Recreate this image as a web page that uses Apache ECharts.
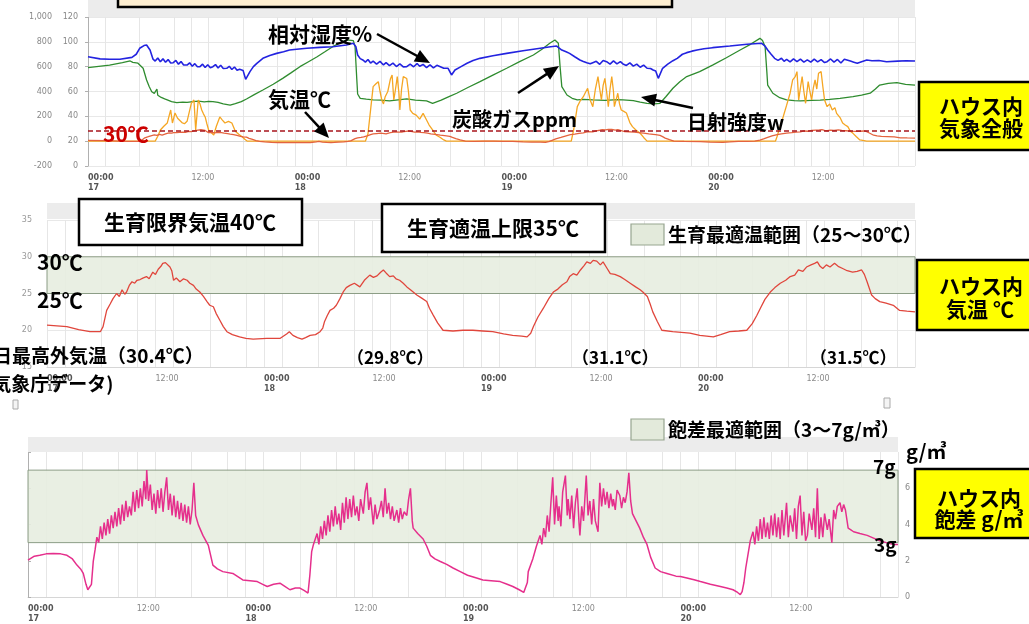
<!DOCTYPE html>
<html><head><meta charset="utf-8">
<script src="https://cdn.jsdelivr.net/npm/echarts@6/dist/echarts.min.js"></script>
<style>html,body{margin:0;padding:0;background:#fff}#c{width:1029px;height:624px}</style>
</head><body><div id="c"></div>
<script>
// ---- data (hours since 00:00 on the 17th) ----
const dayNames = ['17','18','19','20'];
const labelHours = [0,12,24,36,48,60,72,84];
const gridHours = [0,2,6,10,12,14,18,22,24,26,30,34,36,38,42,46,48,50,54,58,60,62,66,70,72,74,78,82,84,86,90,94,96];
const optTempBand = [25,30];
const optVpdBand = [3,7];
const tempLimitLine = 28;

const humidity = [[0,88],[1.4,86.3],[2.5,86],[3.7,86],[5.1,87.5],[5.6,90],[6.0,94.8],[6.5,97],[6.8,97.4],[7.2,93.4],[7.55,86],[7.8,84.5],[8.1,87],[8.4,84],[8.7,86.3],[9.0,83.5],[9.3,85.7],[9.6,83],[9.9,83.2],[10.2,85],[10.5,82],[10.8,84.1],[11.1,81.3],[11.5,81.3],[11.8,83.1],[12.1,80.3],[12.4,82.4],[12.7,79.9],[13.0,80],[13.3,82],[13.6,79.3],[13.9,81.5],[14.2,79.1],[14.5,80],[14.8,81.7],[15.1,78.9],[15.4,81.1],[15.7,78.5],[16.1,78.7],[16.4,80.3],[16.7,77.7],[17.0,79.7],[17.3,77.1],[17.6,77.9],[18.0,77],[18.3,69.8],[18.8,76],[19.2,80],[19.6,82.7],[20.3,86.7],[21.1,89],[21.9,90.7],[22.7,92],[23.4,93.4],[24.5,94.2],[25.4,94.8],[26.9,95.5],[28.4,96],[30.0,97.4],[30.8,98.8],[31.1,96],[31.3,89.4],[31.6,86.5],[31.9,85.4],[32.2,83.7],[32.5,85.8],[32.8,82.9],[33.1,84.5],[33.5,82.1],[33.9,84.3],[34.3,81.4],[34.6,83.3],[35.0,80.8],[35.4,82.9],[35.8,80.1],[36.2,82.2],[36.6,79.8],[37.0,80],[37.4,82.1],[37.8,79.9],[38.2,82.5],[38.5,80.3],[38.9,81.8],[39.3,79.3],[39.7,81.5],[40.1,79],[40.5,81.1],[40.9,80],[41.3,78.7],[41.8,78.7],[42.2,73.3],[42.6,77.3],[43.3,80],[44.0,82.7],[44.7,85],[45.5,86.7],[47.0,88.8],[48.6,90.7],[50.5,92.8],[52.5,94.8],[53.5,95.8],[54.4,96.6],[55.0,93.4],[55.5,92],[55.9,90.7],[56.5,88],[57.1,85.4],[57.5,84.2],[57.9,83.1],[58.3,82.3],[58.6,83.2],[59.0,84.3],[59.4,81.9],[59.8,85],[60.2,84],[60.6,82.1],[61.0,84.7],[61.4,82.3],[61.8,84.1],[62.1,82.2],[62.5,81],[62.9,83.1],[63.3,80.4],[63.7,82.1],[64.1,79.5],[64.5,81.3],[64.9,78.7],[65.3,78.5],[65.6,77.3],[65.9,76.5],[66.2,70.6],[66.7,78.7],[67.3,82],[67.9,84.8],[68.4,86.7],[69.0,90],[69.5,91.3],[70.1,92.5],[70.7,93.4],[71.5,94.4],[72.5,95.3],[74.5,96.6],[76.5,98],[78.2,98.8],[78.6,96.5],[78.9,93.4],[79.3,90],[79.7,86.7],[80.1,85.1],[80.5,86.8],[80.8,84.3],[81.1,85.9],[81.5,83.8],[81.9,86.3],[82.3,84.1],[82.7,86.1],[83.1,83.7],[83.5,85.5],[83.9,83.6],[84.3,86.1],[84.7,83.9],[85.1,85.7],[85.5,83.3],[85.8,84],[86.2,86.2],[86.6,83.6],[87.0,85.8],[87.4,83],[87.8,86],[88.1,85.4],[88.5,84.5],[88.9,83.6],[89.3,82.7],[89.8,84],[90.4,85.4],[91.0,84.8],[91.8,85],[92.7,84],[94.0,84.5],[95.0,84.8],[96,84.6]];

const co2 = [[0,592],[2.5,613],[4.0,632],[4.9,646],[5.2,635],[5.8,628],[6.4,587],[6.8,493],[7.1,440],[7.4,398],[7.7,385],[7.9,372],[8.0,420],[8.1,370],[8.5,352],[8.9,340],[9.2,332],[9.7,318],[10.3,310],[11.0,315],[11.5,312],[12.2,319],[12.8,322],[13.5,316],[14.0,320],[14.5,319],[15.1,312],[15.7,300],[16.5,291],[17.1,303],[17.8,318],[18.4,340],[19.3,375],[20.3,412],[21.5,458],[22.6,506],[23.6,552],[24.6,600],[25.6,640],[26.6,680],[27.5,720],[28.4,761],[29.2,790],[30.0,815],[30.8,810],[31.0,761],[31.2,500],[31.3,380],[31.6,345],[32.3,338],[33.1,332],[34.0,330],[35.0,324],[36.0,333],[37.0,340],[38.0,330],[39.3,324],[40.0,305],[41.0,330],[41.9,358],[42.8,386],[44.1,432],[45.5,479],[47.0,532],[48.6,587],[50.1,640],[51.7,694],[52.7,740],[53.6,788],[54.2,815],[54.6,788],[54.8,600],[55.0,439],[55.6,372],[56.2,345],[56.8,332],[57.5,336],[58.6,332],[60.0,328],[61.5,335],[62.1,332],[63.3,326],[64.1,315],[64.9,305],[65.7,300],[66.4,305],[67.1,360],[67.9,426],[68.7,479],[69.5,520],[71.0,560],[72.5,613],[74.1,672],[75.7,734],[76.9,780],[78.0,828],[78.3,810],[78.6,761],[78.8,560],[78.9,452],[79.5,386],[80.3,350],[81.1,332],[82.0,326],[82.7,324],[84.0,328],[85.0,330],[86.1,336],[87.3,345],[88.8,358],[89.8,370],[90.8,386],[91.4,420],[91.9,452],[92.9,465],[93.9,471],[94.9,458],[96,452]];

const solar = [[0,0],[7.8,0],[8.1,40],[8.4,90],[8.8,120],[9.2,146],[9.4,200],[9.6,251],[9.8,146],[10.1,227],[10.4,185],[10.6,170],[10.9,150],[11.2,140],[11.5,160],[11.7,170],[12.0,307],[12.3,332],[12.5,90],[12.8,332],[13.0,300],[13.2,251],[13.4,220],[13.6,195],[13.8,140],[14.0,90],[14.3,70],[14.6,50],[14.9,120],[15.3,195],[15.6,170],[15.9,146],[16.3,160],[16.7,146],[17.1,80],[17.5,55],[17.9,36],[18.2,15],[18.5,0],[32.2,0],[32.5,60],[32.8,250],[33.1,439],[33.4,460],[33.7,479],[33.9,400],[34.1,332],[34.3,300],[34.5,358],[34.8,400],[35.1,500],[35.3,533],[35.5,332],[35.7,420],[35.9,520],[36.1,380],[36.2,251],[36.4,420],[36.6,520],[36.8,510],[37.0,505],[37.2,400],[37.4,251],[37.7,224],[38.1,210],[38.5,178],[38.9,224],[39.3,170],[39.6,130],[40.0,90],[40.4,50],[40.9,30],[41.3,10],[41.6,0],[56.1,0],[56.4,100],[56.8,278],[57.1,320],[57.5,358],[57.8,400],[58.0,426],[58.3,330],[58.6,278],[58.9,420],[59.2,520],[59.4,420],[59.6,332],[59.8,450],[60.0,506],[60.2,400],[60.4,278],[60.6,420],[60.8,520],[61.0,400],[61.1,278],[61.3,330],[61.5,386],[61.7,300],[61.9,251],[62.2,240],[62.5,227],[62.9,150],[63.2,117],[63.6,90],[64.1,64],[64.5,30],[64.9,0],[79.8,0],[80.0,40],[80.3,110],[80.7,197],[81.1,290],[81.5,386],[81.8,493],[82.1,520],[82.3,560],[82.5,332],[82.7,430],[82.9,520],[83.1,400],[83.3,305],[83.6,479],[83.8,400],[84.0,332],[84.2,430],[84.4,493],[84.6,420],[84.8,547],[85.1,560],[85.3,440],[85.5,332],[85.8,278],[86.1,300],[86.4,251],[86.7,270],[86.9,224],[87.3,190],[87.6,146],[87.9,130],[88.2,117],[88.5,80],[88.8,63],[89.2,35],[89.6,10],[90.4,0],[96,0]];

const temperature = [[0,20.7],[2.2,20.5],[3.5,20.1],[4.75,19.8],[5.9,19.8],[6.2,20.5],[6.6,22.7],[7.0,23.6],[7.3,24.3],[7.7,25.0],[8.0,24.6],[8.3,25.5],[8.6,24.9],[8.8,25.2],[9.1,26.1],[9.4,26.6],[9.7,26.4],[9.95,26.8],[10.3,26.9],[10.6,27.1],[11.0,27.3],[11.3,27.0],[11.7,27.9],[12.0,27.6],[12.3,28.3],[12.6,28.7],[12.8,29.1],[13.1,29.2],[13.3,29.1],[13.6,28.6],[13.8,28.1],[14.0,26.8],[14.3,27.1],[14.7,26.6],[15.1,27.0],[15.5,26.8],[15.8,26.4],[16.2,26.1],[16.5,25.6],[16.9,25.2],[17.3,24.6],[17.7,23.9],[18.0,23.4],[18.4,23.2],[18.7,22.3],[19.1,21.4],[19.5,20.5],[19.9,19.8],[20.5,19.4],[21.3,19.1],[22.0,18.9],[22.8,18.8],[24.3,18.9],[25.8,18.9],[26.5,19.5],[26.8,19.8],[27.2,19.3],[27.7,19.0],[28.2,18.8],[28.6,19.0],[29.1,19.3],[29.7,19.4],[30.2,19.8],[30.5,20.3],[30.7,21.2],[31.0,22.0],[31.3,22.7],[31.7,23.0],[32.0,23.4],[32.4,24.3],[32.8,25.3],[33.1,25.8],[33.5,26.1],[34.0,26.4],[34.6,25.9],[35.1,26.8],[35.7,27.5],[36.1,27.2],[36.5,27.4],[36.9,27.9],[37.2,28.2],[37.5,27.8],[37.9,27.3],[38.3,27.4],[38.6,27.0],[39.0,26.8],[39.4,26.4],[39.8,25.9],[40.3,25.4],[40.9,24.8],[41.4,24.4],[42.0,23.9],[42.3,23.0],[42.7,22.1],[43.2,21.0],[43.8,20.0],[44.9,19.9],[46.0,20.0],[47.1,20.0],[48.2,19.9],[49.3,19.8],[50.5,19.5],[51.5,19.3],[52.5,19.2],[53.1,19.1],[53.5,19.6],[53.8,20.5],[54.3,21.8],[54.9,23.0],[55.5,24.3],[56.0,25.2],[56.5,25.6],[57.0,26.2],[57.5,26.6],[57.8,27.3],[58.2,27.7],[58.6,27.5],[59.0,28.2],[59.4,28.8],[59.7,29.3],[60.1,29.1],[60.4,29.5],[60.8,29.4],[61.2,28.9],[61.5,29.3],[61.9,28.5],[62.3,27.7],[62.8,27.6],[63.4,27.3],[63.9,26.9],[64.5,26.4],[65.1,25.9],[65.6,25.5],[65.9,25.2],[66.4,24.6],[66.7,23.6],[67.0,22.5],[67.5,21.2],[68.0,20.0],[69.2,19.8],[71.1,19.6],[72.2,19.3],[73.7,19.1],[74.5,19.4],[75.5,19.8],[76.5,19.9],[77.4,20.0],[78.0,20.9],[78.5,22.0],[78.9,23.0],[79.4,24.2],[80.0,25.2],[80.5,25.8],[81.1,26.4],[81.7,26.8],[82.2,27.3],[82.7,27.5],[83.1,28.2],[83.6,28.0],[84.0,28.6],[84.5,28.9],[84.9,29.1],[85.2,29.3],[85.5,28.7],[85.8,28.4],[86.2,28.9],[86.6,28.6],[87.1,29.1],[87.5,28.7],[88.0,28.4],[88.5,28.1],[89.1,27.9],[89.6,28.0],[90.1,28.2],[90.4,27.6],[90.7,26.6],[91.2,24.8],[91.6,24.3],[92.1,23.9],[92.8,23.7],[93.6,23.4],[94.3,22.7],[95.1,22.6],[96,22.5]];

const vpd = [[0,2.03],[0.7,2.25],[1.3,2.3],[2.0,2.38],[2.8,2.4],[3.6,2.38],[4.3,2.3],[4.9,2.1],[5.4,1.76],[5.8,1.55],[6.1,1.3],[6.4,0.7],[6.6,0.4],[6.8,0.45],[7.0,0.7],[7.2,1.96],[7.4,2.6],[7.6,3.3],[7.8,3.0],[8.0,3.9],[8.2,3.2],[8.4,4.1],[8.6,3.4],[8.8,4.3],[9.0,3.5],[9.2,4.5],[9.4,3.8],[9.6,4.7],[9.8,3.9],[10.0,4.9],[10.2,4.0],[10.4,5.1],[10.6,4.2],[10.8,5.3],[11.0,4.4],[11.2,5.0],[11.4,4.5],[11.6,5.8],[11.8,4.7],[12.0,5.9],[12.2,4.9],[12.4,6.0],[12.6,5.0],[12.8,6.4],[13.0,5.4],[13.1,7.0],[13.3,5.3],[13.5,6.2],[13.7,4.8],[13.9,5.7],[14.1,4.6],[14.3,5.9],[14.5,4.9],[14.7,6.0],[14.9,4.7],[15.1,5.8],[15.3,6.6],[15.5,4.8],[15.7,5.7],[15.9,4.5],[16.1,5.6],[16.3,4.4],[16.5,5.3],[16.7,4.3],[16.9,5.2],[17.1,4.2],[17.3,5.1],[17.5,4.1],[17.7,5.0],[17.9,4.0],[18.1,4.8],[18.3,6.3],[18.5,4.5],[18.8,3.98],[19.3,3.4],[19.9,2.85],[20.4,1.76],[20.9,1.55],[21.5,1.4],[22.6,1.3],[23.7,0.94],[24.5,0.9],[25.3,0.85],[25.9,0.7],[26.4,0.58],[27.1,0.7],[27.8,0.76],[28.3,0.6],[28.9,0.4],[29.5,0.5],[30.0,0.49],[30.5,0.35],[30.9,0.22],[31.1,1.2],[31.3,2.5],[31.5,2.9],[31.7,3.0],[31.9,3.5],[32.1,2.9],[32.3,3.9],[32.5,3.2],[32.7,4.2],[32.9,3.4],[33.1,4.5],[33.3,3.6],[33.5,4.8],[33.7,3.9],[33.9,5.0],[34.1,4.0],[34.3,4.6],[34.5,3.7],[34.7,5.2],[34.9,4.1],[35.1,5.5],[35.3,4.3],[35.5,5.4],[35.7,4.4],[35.9,5.6],[36.1,4.5],[36.3,5.0],[36.5,4.2],[36.7,5.4],[37.0,4.6],[37.2,5.8],[37.4,6.3],[37.6,4.8],[37.8,5.5],[38.1,4.0],[38.3,5.1],[38.5,4.3],[38.8,4.8],[39.0,5.3],[39.2,4.4],[39.4,6.0],[39.6,4.6],[39.8,5.2],[40.0,4.3],[40.2,5.0],[40.4,4.2],[40.7,4.8],[40.9,4.1],[41.1,4.9],[41.3,4.3],[41.5,4.7],[41.8,4.5],[42.0,5.4],[42.2,6.0],[42.4,4.2],[42.5,3.8],[43.0,3.5],[43.6,3.2],[44.0,2.8],[44.4,2.3],[44.9,2.1],[45.5,1.96],[46.2,1.8],[46.9,1.6],[47.7,1.4],[48.5,1.2],[49.5,1.05],[50.2,0.94],[51.1,0.9],[52.1,0.85],[52.8,0.72],[53.5,0.58],[54.2,0.4],[54.7,0.25],[54.9,0.2],[55.1,0.8],[55.2,1.4],[55.7,2.1],[56.1,2.8],[56.5,3.4],[56.7,2.9],[56.9,3.8],[57.1,3.3],[57.3,4.5],[57.5,3.6],[57.7,5.2],[57.9,6.6],[58.1,4.0],[58.3,5.6],[58.5,4.2],[58.6,5.0],[58.8,3.9],[59.0,5.8],[59.3,6.7],[59.5,4.5],[59.6,5.4],[59.8,4.3],[60.0,5.6],[60.2,3.8],[60.4,5.2],[60.6,6.0],[60.8,4.1],[60.9,3.4],[61.1,5.0],[61.3,4.2],[61.6,6.7],[61.8,4.5],[62.0,5.3],[62.2,4.0],[62.4,5.4],[62.6,4.2],[62.9,3.6],[63.1,6.3],[63.3,5.0],[63.5,6.0],[63.7,5.1],[63.9,5.8],[64.1,4.9],[64.3,5.7],[64.5,5.0],[64.6,5.4],[64.8,4.8],[65.0,5.9],[65.3,5.6],[65.5,4.9],[65.7,5.5],[65.9,5.2],[66.1,5.8],[66.3,6.85],[66.5,5.3],[66.7,4.6],[67.1,4.2],[67.5,3.8],[67.9,3.3],[68.3,2.9],[68.7,2.2],[69.2,1.6],[69.8,1.4],[70.5,1.3],[71.5,1.15],[72.0,1.13],[72.7,1.05],[73.5,0.95],[74.2,0.85],[75.3,0.7],[76.4,0.58],[77.1,0.5],[77.8,0.4],[78.3,0.25],[78.6,0.13],[78.8,0.3],[79.0,0.8],[79.2,1.6],[79.5,2.5],[79.7,3.1],[80.0,3.6],[80.2,2.9],[80.4,3.9],[80.6,3.1],[80.8,4.3],[81.0,3.2],[81.2,4.4],[81.4,3.3],[81.6,4.1],[81.8,3.2],[82.0,4.5],[82.2,3.4],[82.4,4.6],[82.6,3.3],[82.8,4.4],[83.0,3.2],[83.2,4.8],[83.4,3.4],[83.7,5.2],[83.9,3.3],[84.1,4.5],[84.4,3.6],[84.6,4.9],[84.8,3.2],[85.0,5.0],[85.2,5.6],[85.4,3.4],[85.6,4.7],[85.8,3.1],[86.0,3.4],[86.2,4.6],[86.5,3.7],[86.7,4.9],[86.9,3.3],[87.1,6.0],[87.3,3.2],[87.5,4.4],[87.7,3.3],[87.9,4.6],[88.2,3.7],[88.4,4.3],[88.7,3.0],[88.9,4.8],[89.1,4.3],[89.3,5.0],[89.6,5.2],[89.8,4.7],[90.0,5.1],[90.2,4.8],[90.5,3.8],[90.8,3.7],[91.1,3.6],[91.8,3.5],[92.6,3.4],[93.3,3.25],[94.0,3.1],[94.7,3.0],[95.5,2.9],[96,2.9]];

// ---- chart ----
const JP = "'Noto Sans CJK JP', sans-serif";
const AXF = "'DejaVu Sans', sans-serif";
const chart = echarts.init(document.getElementById('c'));
const BAND = 'rgba(231,237,224,0.9)';

function xAxisFor(gi){
  return {
    type:'value', gridIndex:gi, min:0, max:96, interval:12,
    axisLine:{show:true, lineStyle:{color:'#d6d6d6'}},
    axisTick:{show:false, customValues:gridHours},
    axisLabel:{
      customValues:labelHours, align:'left', margin:7, fontSize:8, fontFamily:AXF, color:'#888', lineHeight:10,
      formatter: v => (v % 24 === 0) ? '{b|00:00}\n{b|' + dayNames[v/24] + '}' : '{n|12:00}',
      rich:{ b:{fontWeight:'bold', color:'#555', fontSize:8, fontFamily:AXF, lineHeight:10},
             n:{color:'#8a8a8a', fontSize:8, fontFamily:AXF, lineHeight:10} }
    },
    splitLine:{show:true, lineStyle:{color:'#e6e6e6', width:1}}
  };
}
function T(text, x, y, size, opts){
  opts = opts || {};
  return {type:'text', z:100, style:{
    text:text, x:x, y:y, fill:opts.color || '#000', fontSize:size, fontWeight:'bold', fontFamily:JP,
    align:opts.align || 'left', textAlign:opts.align || 'left', verticalAlign:'middle', textVerticalAlign:'middle'
  }};
}
function R(x,y,w,h,fill,stroke,lw){
  return {type:'rect', z:90, shape:{x:x,y:y,width:w,height:h}, style:{fill:fill, stroke:stroke || null, lineWidth:lw || 0}};
}
function arrow(x1,y1,x2,y2){
  const dx=x2-x1, dy=y2-y1, L=Math.hypot(dx,dy), ux=dx/L, uy=dy/L, hl=15, hw=6.5;
  const bx=x2-ux*hl, by=y2-uy*hl;
  return [
    {type:'line', z:100, shape:{x1:x1,y1:y1,x2:bx+ux*2,y2:by+uy*2}, style:{stroke:'#000', lineWidth:2.5}},
    {type:'polygon', z:100, shape:{points:[[x2,y2],[bx-uy*hw,by+ux*hw],[bx+uy*hw,by-ux*hw]]}, style:{fill:'#000'}}
  ];
}
const yellowBox = (x,y,w,h) => R(x,y,w,h,'#ffff00','#000',2.5);

const option = {
  animation:false,
  backgroundColor:'#fff',
  grid:[
    {left:88, top:17, width:827, height:149},
    {left:47, top:220, width:868, height:147},
    {left:28, top:452, width:870, height:147}
  ],
  xAxis:[xAxisFor(0), xAxisFor(1), xAxisFor(2)],
  yAxis:[
    {type:'value', gridIndex:0, min:-200, max:1000, interval:200, position:'left', offset:28,
     axisLine:{show:true, lineStyle:{color:'#b0b0b0'}}, axisTick:{show:true, length:3, lineStyle:{color:'#b0b0b0'}},
     axisLabel:{margin:8, fontSize:8, fontFamily:AXF, color:'#888', formatter: v => v === 1000 ? '1,000' : String(v)},
     splitLine:{show:false}},
    {type:'value', gridIndex:0, min:0, max:120, interval:20, position:'left',
     axisLine:{show:false}, axisTick:{show:false},
     axisLabel:{margin:10, fontSize:8, fontFamily:AXF, color:'#888'},
     splitLine:{show:true, lineStyle:{color:'#e8e8e8'}}},
    {type:'value', gridIndex:1, min:15, max:35, interval:5, position:'left',
     axisLine:{show:false}, axisTick:{show:false},
     axisLabel:{margin:15, fontSize:8, fontFamily:AXF, color:'#999'},
     splitLine:{show:true, lineStyle:{color:'#e8e8e8'}}},
    {type:'value', gridIndex:2, min:0, max:8, interval:2, position:'right',
     axisLine:{show:true, lineStyle:{color:'#b0b0b0'}}, axisTick:{show:true, length:3, lineStyle:{color:'#b0b0b0'}},
     axisLabel:{margin:7, fontSize:8, fontFamily:AXF, color:'#888', formatter: v => v === 8 ? '' : String(v)},
     splitLine:{show:false}}
  ],
  series:[
    {name:'炭酸ガス', type:'line', xAxisIndex:0, yAxisIndex:0, data:co2, showSymbol:false, silent:true,
     lineStyle:{color:'#2f8c2f', width:1.3}},
    {name:'日射強度', type:'line', xAxisIndex:0, yAxisIndex:0, data:solar, showSymbol:false, silent:true,
     lineStyle:{color:'#f5a623', width:1.3}},
    {name:'相対湿度', type:'line', xAxisIndex:0, yAxisIndex:1, data:humidity, showSymbol:false, silent:true,
     lineStyle:{color:'#2323e0', width:1.6}},
    {name:'気温', type:'line', xAxisIndex:0, yAxisIndex:1, data:temperature, showSymbol:false, silent:true,
     lineStyle:{color:'#e4633e', width:1.3},
     markLine:{silent:true, symbol:['none','none'], label:{show:false},
       lineStyle:{type:[5,3], color:'#a8141c', width:1.6}, data:[{yAxis:tempLimitLine}]}},
    {name:'ハウス内気温', type:'line', xAxisIndex:1, yAxisIndex:2, data:temperature, showSymbol:false, silent:true,
     lineStyle:{color:'#e0463c', width:1.3},
     markArea:{silent:true, itemStyle:{color:BAND, borderColor:'#8c9d86', borderWidth:1},
       data:[[{yAxis:optTempBand[0]},{yAxis:optTempBand[1]}]]}},
    {name:'飽差', type:'line', xAxisIndex:2, yAxisIndex:3, data:vpd, showSymbol:false, silent:true,
     lineStyle:{color:'#e52f8c', width:1.5},
     markArea:{silent:true, itemStyle:{color:BAND, borderColor:'#8c9d86', borderWidth:1},
       data:[[{yAxis:optVpdBand[0]},{yAxis:optVpdBand[1]}]]}}
  ],
  graphic:[
    Object.assign(R(88,0,827,17,'#ececec'),{z:1}),
    Object.assign(R(47,203,868,16,'#ececec'),{z:1}),
    Object.assign(R(28,437,870,15,'#ececec'),{z:1}),
    R(118,-10,554,17,'#fdeed0','#000',2.5),
    T('相対湿度%',268,34,21),
    ...arrow(377,34,430,63),
    T('気温℃',268,99,21),
    ...arrow(305,112,329,138),
    T('30℃',103,134,21,{color:'#cc0000'}),
    T('炭酸ガスppm',452,119,20),
    ...arrow(518,93,559,66),
    T('日射強度w',687,122,20),
    ...arrow(693,108,641,97),
    yellowBox(919,82,120,68),
    T('ハウス内',981,106,21,{align:'center'}),
    T('気象全般',981,128,21,{align:'center'}),
    R(79,199,223,46,'#fff','#000',2.5),
    T('生育限界気温40℃',190,222,21,{align:'center'}),
    R(382,204,223,48,'#fff','#000',2.5),
    T('生育適温上限35℃',493,228,21,{align:'center'}),
    R(631,224,33,21,'#e3eadb','#97a590',1.2),
    T('生育最適温範囲（25～30℃）',668,235,19),
    T('30℃',37,262,21),
    T('25℃',37,300,21),
    T('日最高外気温（30.4℃）',-7,356,19),
    T('(気象庁データ)',-15,384,19),
    T('（29.8℃）',347,358,17),
    T('（31.1℃）',572,358,17),
    T('（31.5℃）',810,358,17),
    yellowBox(917,260,120,70),
    T('ハウス内',981,286,21,{align:'center'}),
    T('気温 ℃',980,309,21,{align:'center'}),
    R(13,400,5,9,'#f4f4f4','#aaa',1),
    R(884,398,6,10,'#f4f4f4','#aaa',1),
    R(631,419,33,21,'#e3eadb','#97a590',1.2),
    T('飽差最適範囲（3～7g/㎥）',668,430,19),
    T('g/㎥',906,451,20),
    T('7g',873,467,19),
    T('3g',874,545,19),
    yellowBox(915,469,120,69),
    T('ハウス内',979,498,21,{align:'center'}),
    T('飽差 g/㎥',979,519,21,{align:'center'})
  ]
};
chart.setOption(option);
</script>
</body></html>
